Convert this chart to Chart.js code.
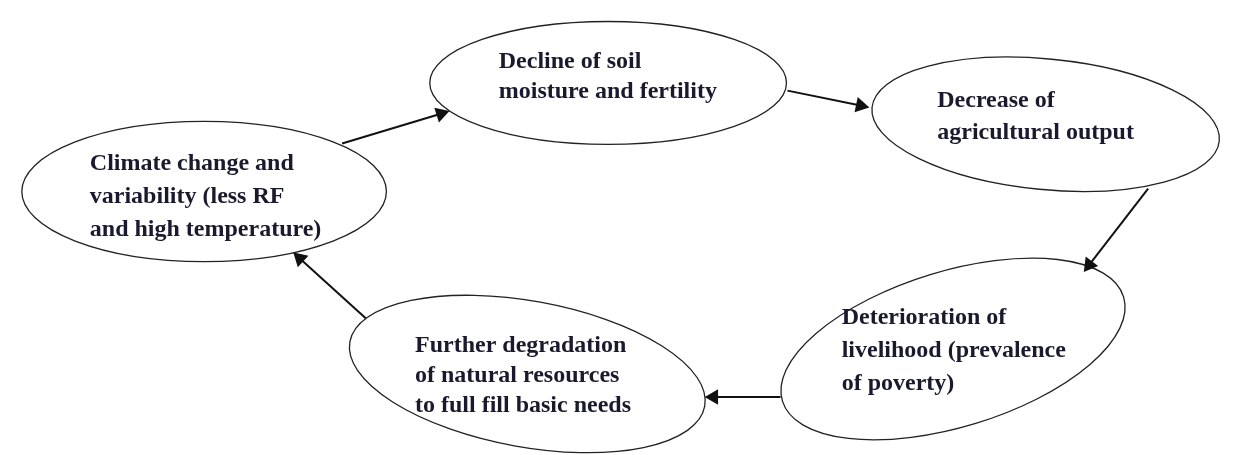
<!DOCTYPE html>
<html>
<head>
<meta charset="utf-8">
<script src="https://cdn.jsdelivr.net/npm/chart.js@4.4.1/dist/chart.umd.min.js"></script>
<style>
  html, body { margin: 0; padding: 0; background: #fff; }
  #wrap { width: 1233px; height: 455px; }
</style>
</head>
<body>
<div id="wrap"><canvas id="myChart"></canvas></div>
<script>
// nodes of the cycle
const nodeLabels = [
  ["Climate change and", "variability (less RF", "and high temperature)"],
  ["Decline of soil", "moisture and fertility"],
  ["Decrease of", "agricultural output"],
  ["Deterioration of", "livelihood (prevalence", "of poverty)"],
  ["Further degradation", "of natural resources", "to full fill basic needs"],
];
const nodeX = [198, 608, 1052, 958, 526];
const nodeY = [190, 77, 120, 354, 380];
const nodeRx = [185, 181, 177, 181, 183];
const nodeRy = [73, 64, 68, 81, 76];
const nodeTilt = [0, 0, 5.5, -17, 10.3];
const textX = [82, 497, 942, 845, 412];
const textY = [161, 55, 96, 322, 351];
const lineGap = [33, 30, 32, 33, 30];

// arrows between nodes
const arrowFrom = [[338, 140], [790, 85], [1156, 187], [783, 404], [362, 322]];
const arrowTo = [[445, 107], [871, 102], [1092, 272], [708, 404], [290, 255]];

const headSize = 7;

var arrowSets = arrowFrom.map(function (p, i) {
  var q = arrowTo[i];
  var dx = q[0] - p[0];
  var dy = q[1] - p[1];
  var len = Math.sqrt(dx * dx + dy * dy);
  var rot = (Math.atan2(dx, -dy) * 180) / Math.PI;
  return {
    label: "arrow " + (i + 1),
    data: [
      { x: p[0], y: p[1] },
      { x: q[0] - (dx / len) * headSize, y: q[1] - (dy / len) * headSize },
    ],
    showLine: true,
    borderColor: "#111",
    borderWidth: 2,
    backgroundColor: "#111",
    pointBorderColor: "#111",
    pointStyle: "triangle",
    pointRadius: [0, headSize],
    pointRotation: [0, rot],
  };
});

// ellipses + labels
const nodePlugin = {
  id: "nodes",
  beforeDatasetsDraw(chart) {
    const ctx = chart.ctx;
    const xs = chart.scales.x;
    const ys = chart.scales.y;
    ctx.save();
    ctx.strokeStyle = "#222";
    ctx.lineWidth = 1.3;
    for (let i = 0; i < nodeX.length; i++) {
      const cx = xs.getPixelForValue(nodeX[i]);
      const cy = ys.getPixelForValue(nodeY[i]);
      const rx = Math.abs(xs.getPixelForValue(nodeX[i] + nodeRx[i]) - cx);
      const ry = Math.abs(ys.getPixelForValue(nodeY[i] + nodeRy[i]) - cy);
      ctx.beginPath();
      ctx.ellipse(cx, cy, rx, ry, (nodeTilt[i] * Math.PI) / 180, 0, 2 * Math.PI);
      ctx.stroke();
    }
    ctx.restore();
  },
  afterDraw(chart) {
    const ctx = chart.ctx;
    const xs = chart.scales.x;
    const ys = chart.scales.y;
    ctx.save();
    ctx.fillStyle = "#1a1a2e";
    ctx.font = "bold 24px 'Liberation Serif'";
    ctx.textAlign = "left";
    ctx.textBaseline = "middle";
    for (let i = 0; i < nodeLabels.length; i++) {
      const x = xs.getPixelForValue(textX[i]);
      const y = ys.getPixelForValue(textY[i]);
      nodeLabels[i].forEach(function (line, k) {
        ctx.fillText(line, x, y + k * lineGap[i]);
      });
    }
    ctx.restore();
  },
};

var config = {
  type: "scatter",
  data: { datasets: arrowSets },
  options: {
    responsive: true,
    maintainAspectRatio: false,
    animation: false,
    layout: { padding: 0 },
    plugins: {
      legend: { display: false },
      tooltip: { enabled: false },
    },
    scales: {
      x: { type: "linear", min: 0, max: 1233, display: false },
      y: { type: "linear", min: 0, max: 455, reverse: true, display: false },
    },
  },
  plugins: [nodePlugin],
};

const myChart = new Chart(document.getElementById("myChart"), config);
</script>
</body>
</html>
